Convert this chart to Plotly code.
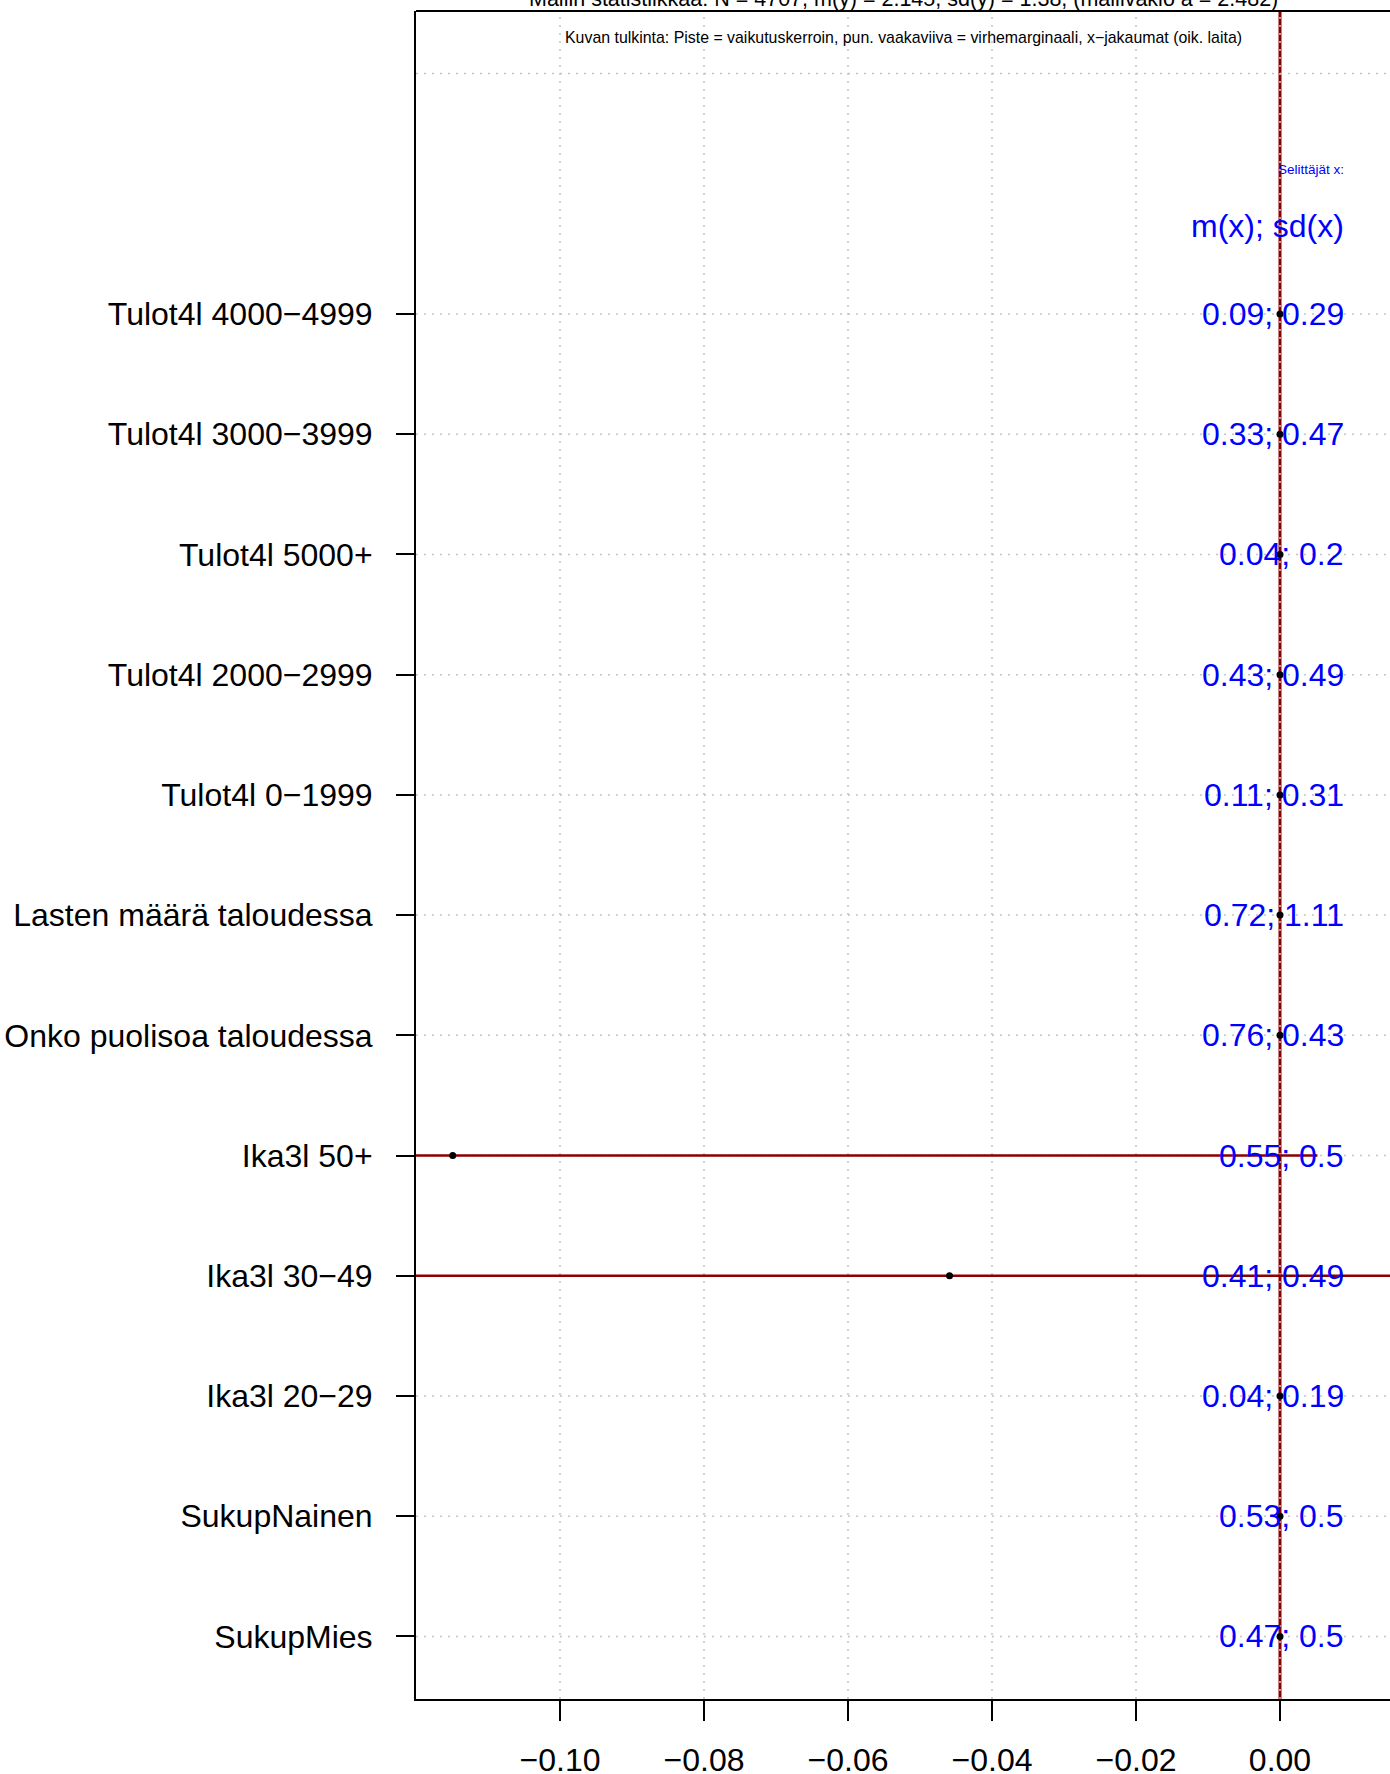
import plotly.graph_objects as go

# ---- data (top to bottom) ----
categories = ["Tulot4l 4000\u22124999", "Tulot4l 3000\u22123999", "Tulot4l 5000+",
              "Tulot4l 2000\u22122999", "Tulot4l 0\u22121999", "Lasten määrä taloudessa",
              "Onko puolisoa taloudessa", "Ika3l 50+", "Ika3l 30\u221249", "Ika3l 20\u221229",
              "SukupNainen", "SukupMies"]
coef = [0.0, 0.0, 0.0, 0.0, 0.0, 0.0, 0.0, -0.1149, -0.0459, 0.0, 0.0, 0.0]
ci_low = [0.0, 0.0, 0.0, 0.0, 0.0, 0.0, 0.0, -0.235, -0.156, 0.0, 0.0, 0.0]
ci_high = [0.0, 0.0, 0.0, 0.0, 0.0, 0.0, 0.0, 0.0052, 0.064, 0.0, 0.0, 0.0]
mean_x = ["0.09", "0.33", "0.04", "0.43", "0.11", "0.72", "0.76", "0.55", "0.41", "0.04", "0.53", "0.47"]
sd_x = ["0.29", "0.47", "0.2", "0.49", "0.31", "1.11", "0.43", "0.5", "0.49", "0.19", "0.5", "0.5"]
x_ticks = [-0.10, -0.08, -0.06, -0.04, -0.02, 0.00]
x_ticktext = ["\u22120.10", "\u22120.08", "\u22120.06", "\u22120.04", "\u22120.02", "0.00"]

title_text = "Mallin statistiikkaa: N = 4707, m(y) = 2.145, sd(y) = 1.38, (mallivakio a = 2.482)"
subtitle_text = ("Kuvan tulkinta: Piste = vaikutuskerroin, pun. vaakaviiva = virhemarginaali, "
                 "x\u2212jakaumat (oik. laita)")

FONT = "Liberation Sans, Arial, Helvetica, sans-serif"
n = len(categories)
ypos = [n - i for i in range(n)]
extra_grid_y = n + 2
label_x = 0.0092

W, H = 1390, 1774
ML, MT, MB, MR = 416, 11, 75, 0
x_range = [-0.12, -0.12 + (W - ML - MR) / 7200.0]
y_range = [0.48, 14.52]

fig = go.Figure()

# error bars
ex, ey = [], []
for lo, hi, y in zip(ci_low, ci_high, ypos):
    if hi > lo:
        ex += [lo, hi, None]
        ey += [y, y, None]
fig.add_trace(go.Scatter(x=ex, y=ey, mode="lines",
                         line=dict(color="#8B0000", width=2.5),
                         hoverinfo="skip", showlegend=False))
# coefficient points
fig.add_trace(go.Scatter(x=coef, y=ypos, mode="markers",
                         marker=dict(color="black", size=7),
                         showlegend=False))

shapes = []
# red zero line
shapes.append(dict(type="line", xref="x", yref="paper", x0=0, x1=0, y0=0, y1=1,
                   line=dict(color="#8B0000", width=3), layer="below"))
grid_style = dict(color="#C4C4C4", width=1.5, dash="2px,6px")
for xv in x_ticks:
    shapes.append(dict(type="line", xref="x", yref="paper", x0=xv, x1=xv, y0=0, y1=1,
                       line=grid_style, layer="below"))
for yv in ypos + [extra_grid_y]:
    shapes.append(dict(type="line", xref="paper", yref="y", x0=0, x1=1, y0=yv, y1=yv,
                       line=grid_style, layer="below"))
# top border
shapes.append(dict(type="line", xref="paper", yref="paper", x0=0, x1=1, y0=1, y1=1,
                   line=dict(color="black", width=2)))

annotations = []
for mx, sx, y in zip(mean_x, sd_x, ypos):
    annotations.append(dict(x=label_x, y=y, xref="x", yref="y", text=f"{mx}; {sx}",
                            showarrow=False, xanchor="right", yanchor="middle",
                            font=dict(family=FONT, size=32, color="#0000FF")))
annotations.append(dict(x=label_x, y=12.73, xref="x", yref="y", text="m(x); sd(x)",
                        showarrow=False, xanchor="right", yanchor="middle",
                        font=dict(family=FONT, size=32, color="#0000FF")))
annotations.append(dict(x=label_x, y=13.2, xref="x", yref="y", text="Selittäjät x:",
                        showarrow=False, xanchor="right", yanchor="middle",
                        font=dict(family=FONT, size=13.5, color="#0000FF")))
annotations.append(dict(x=0.5, y=1, xref="paper", yref="paper", text=title_text,
                        showarrow=False, xanchor="center", yanchor="bottom", yshift=-2,
                        font=dict(family=FONT, size=21.5, color="black")))
annotations.append(dict(x=0.5, y=1 - (38 - MT) / (H - MT - MB), xref="paper", yref="paper",
                        text=subtitle_text, showarrow=False, xanchor="center", yanchor="middle",
                        font=dict(family=FONT, size=15.9, color="black")))

fig.update_layout(
    width=W, height=H, autosize=False,
    margin=dict(l=ML, r=MR, t=MT, b=MB, pad=0, autoexpand=False),
    plot_bgcolor="white", paper_bgcolor="white",
    font=dict(family=FONT, size=32, color="black"),
    shapes=shapes, annotations=annotations,
    showlegend=False,
    xaxis=dict(range=x_range, tickvals=x_ticks, ticktext=x_ticktext, automargin=False,
               showgrid=False, zeroline=False, showline=True, linecolor="black", linewidth=2,
               ticks="outside", ticklen=20, tickwidth=1.5, tickcolor="black",
               ticklabelstandoff=12, tickfont=dict(family=FONT, size=32)),
    yaxis=dict(range=y_range, tickvals=ypos, ticktext=categories, automargin=False,
               showgrid=False, zeroline=False, showline=True, linecolor="black", linewidth=2,
               ticks="outside", ticklen=18, tickwidth=1.5, tickcolor="black",
               ticklabelstandoff=17, tickfont=dict(family=FONT, size=32)),
)

fig.write_html("out.html", config={"displayModeBar": False},
               post_script="document.body.style.margin='0';document.body.style.overflow='hidden';")
